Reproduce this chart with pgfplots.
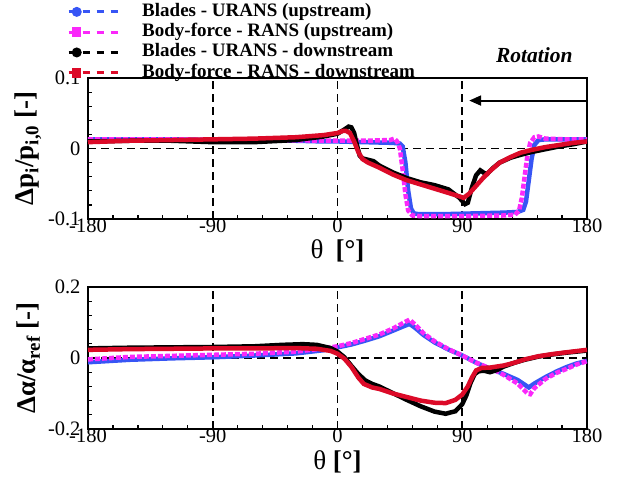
\documentclass[border=0pt]{standalone}
\usepackage{pgfplots}
\pgfplotsset{compat=1.18}
\usepackage{pgfplotstable}
\usepackage{fontspec}
\setmainfont{Liberation Serif}
\usetikzlibrary{arrows.meta}
\definecolor{bluec}{RGB}{55,85,245}
\definecolor{magc}{RGB}{250,40,250}
\definecolor{redc}{RGB}{220,10,40}

\pgfplotstableread{
t v
-180 0.013
-150 0.013
-120 0.013
-90 0.012
-60 0.012
-30 0.011
-10 0.010
0 0.010
20 0.009
40 0.008
45 0.007
47 0.003
49 -0.020
51 -0.060
53 -0.085
55 -0.092
58 -0.093
80 -0.093
100 -0.092
120 -0.091
130 -0.090
134 -0.087
136 -0.075
138 -0.045
140 -0.015
142 0.005
145 0.012
150 0.013
165 0.013
180 0.013
}\tBlue
\pgfplotstableread{
t v
-180 0.013
-120 0.013
-60 0.012
0 0.011
20 0.011
38 0.012
41 0.014
43 0.010
45 0.000
47 -0.030
49 -0.065
51 -0.088
54 -0.095
60 -0.096
90 -0.096
120 -0.095
128 -0.094
131 -0.088
133 -0.070
135 -0.040
137 -0.010
139 0.008
142 0.016
145 0.017
150 0.014
165 0.013
180 0.013
}\tMag
\pgfplotstableread{
t v
-180 0.010
-150 0.011
-120 0.011
-90 0.009
-60 0.009
-30 0.012
-10 0.017
0 0.021
5 0.027
8 0.031
10 0.030
12 0.022
14 0.005
16 -0.010
18 -0.014
22 -0.016
26 -0.018
30 -0.024
40 -0.034
50 -0.042
60 -0.048
70 -0.052
80 -0.058
88 -0.070
92 -0.079
94 -0.077
97 -0.055
100 -0.038
103 -0.031
106 -0.035
108 -0.036
112 -0.028
117 -0.020
125 -0.013
132 -0.009
140 -0.005
150 -0.001
160 0.003
170 0.006
180 0.010
}\tBlack
\pgfplotstableread{
t v
-180 0.009
-150 0.011
-120 0.012
-90 0.013
-60 0.014
-30 0.016
-10 0.019
0 0.022
4 0.025
6 0.025
9 0.022
12 0.010
15 -0.005
18 -0.015
22 -0.020
30 -0.027
40 -0.037
50 -0.045
60 -0.051
70 -0.057
80 -0.063
88 -0.068
91 -0.070
95 -0.064
100 -0.053
105 -0.042
110 -0.032
117 -0.020
125 -0.012
132 -0.006
140 -0.002
150 0.002
160 0.005
170 0.008
180 0.010
}\tRed

\pgfplotstableread{
t v
-180 -0.012
-150 -0.005
-120 -0.001
-90 0.002
-60 0.007
-30 0.013
-10 0.022
0 0.030
10 0.038
20 0.049
30 0.061
40 0.077
48 0.090
52 0.096
56 0.085
62 0.065
70 0.044
80 0.024
90 0.007
100 -0.013
105 -0.022
112 -0.033
120 -0.045
130 -0.062
138 -0.083
142 -0.072
150 -0.054
158 -0.038
165 -0.026
172 -0.016
180 -0.008
}\bBlue
\pgfplotstableread{
t v
-180 -0.004
-150 0.003
-120 0.006
-90 0.009
-60 0.012
-30 0.018
-10 0.027
0 0.033
10 0.042
20 0.054
30 0.066
40 0.083
48 0.100
52 0.108
56 0.094
62 0.070
70 0.047
80 0.025
90 0.007
100 -0.013
108 -0.026
114 -0.035
120 -0.048
130 -0.072
137 -0.100
139 -0.102
142 -0.085
150 -0.059
158 -0.042
165 -0.031
172 -0.019
180 -0.009
}\bMag
\pgfplotstableread{
t v
-180 0.027
-150 0.029
-120 0.030
-90 0.031
-60 0.033
-40 0.037
-25 0.039
-15 0.037
-5 0.028
0 0.018
5 0.002
10 -0.022
15 -0.045
20 -0.063
25 -0.073
30 -0.080
40 -0.099
50 -0.118
60 -0.136
70 -0.151
78 -0.157
85 -0.150
90 -0.130
93 -0.105
96 -0.070
99 -0.045
102 -0.037
106 -0.036
110 -0.040
115 -0.034
120 -0.024
128 -0.013
135 -0.005
145 0.004
155 0.010
165 0.015
180 0.021
}\bBlack
\pgfplotstableread{
t v
-180 0.023
-150 0.025
-120 0.026
-90 0.027
-60 0.027
-30 0.028
-15 0.026
-5 0.020
0 0.012
5 -0.002
10 -0.025
15 -0.055
19 -0.073
25 -0.083
30 -0.087
40 -0.100
50 -0.110
60 -0.120
70 -0.126
78 -0.127
85 -0.118
90 -0.103
94 -0.080
97 -0.055
100 -0.035
104 -0.028
110 -0.027
120 -0.021
128 -0.013
135 -0.004
145 0.005
155 0.011
165 0.016
180 0.023
}\bRed

\pgfplotsset{
  myax/.style={
    scale only axis, width=499pt,
    xmin=-180, xmax=180,
    xtick={-180,-90,0,90,180},
    minor x tick num=4, minor y tick num=4,
    tick align=inside, xtick pos=bottom, ytick pos=left,
    major tick length=7pt, minor tick length=4pt,
    axis line style={line width=2pt},
    every tick/.style={black, line width=1.2pt},
    xmajorgrids, ymajorgrids,
    grid style={black, line width=1.8pt, dash pattern=on 8pt off 5pt},
    major grid style={black, line width=1.8pt, dash pattern=on 8pt off 5pt},
    tick label style={font=\fontsize{20.5}{22}\selectfont},
    /pgf/number format/assume math mode=true,
    xticklabel style={yshift=4pt},
    yticklabel style={xshift=-4pt},
    clip=false,
    label style={font=\fontsize{27}{30}\selectfont},
  },
  pB/.style={bluec, line width=4.5pt},
  pM/.style={magc, line width=4.5pt, dash pattern=on 5pt off 2pt},
  pK/.style={black, line width=4.5pt},
  pR/.style={redc, line width=4.5pt},
  legC/.style={legend image code/.code={%
    \draw[##1, line width=3pt, dash pattern=on 7pt off 7pt, dash phase=-14pt] (0pt,0pt) -- (50pt,0pt);
    \fill[##1, solid] (8pt,0pt) circle (2.6pt);}},
  legS/.style={legend image code/.code={%
    \draw[##1, line width=3pt, dash pattern=on 7pt off 7pt, dash phase=-14pt] (0pt,0pt) -- (50pt,0pt);
    \fill[##1, solid] (5.5pt,-2.5pt) rectangle (10.5pt,2.5pt);}},
}

\begin{document}
\begin{tikzpicture}
\path[use as bounding box] (0,0) rectangle (626pt,480pt);

\begin{axis}[myax,
  at={(88pt,261pt)}, anchor=south west, height=141pt,
  ymin=-0.1, ymax=0.1, ytick={-0.1,0,0.1},
  xlabel={θ\hspace{0.45em}\textbf{[°]}},
  xlabel style={at={(axis description cs:0.5,-0.227)}, anchor=center},
  ylabel={\bfseries Δp\textsubscript{i}/p\textsubscript{i,0} [-]},
  ylabel style={at={(axis description cs:-0.12,0.5)}, anchor=center},
  legend cell align=left,
  legend style={at={(axis description cs:-0.048,1.545)}, anchor=north west,
    draw=none, fill=none, font=\fontsize{19}{20}\bfseries,
    row sep=3.3pt, nodes={inner sep=0pt, text height=13pt, text depth=4pt},
    /tikz/every odd column/.append style={column sep=22pt}},
]
\addplot[pB, legC] table[x=t,y=v] {\tBlue};
\addlegendentry{Blades - URANS (upstream)}
\addplot[pM, legS] table[x=t,y=v] {\tMag};
\addlegendentry{Body-force - RANS (upstream)}
\addplot[pK, legC] table[x=t,y=v] {\tBlack};
\addlegendentry{Blades - URANS - downstream}
\addplot[pR, legS] table[x=t,y=v] {\tRed};
\addlegendentry{Body-force - RANS - downstream}
\draw[line width=2pt, -{Triangle[length=12pt,width=10pt]}] (axis cs:180,0.068) -- (axis cs:95,0.068);
\node[font=\fontsize{21.5}{24}\bfseries\itshape] at (axis cs:142,0.132) {Rotation};
\end{axis}

\begin{axis}[myax,
  at={(88pt,51pt)}, anchor=south west, height=142pt,
  ymin=-0.2, ymax=0.2, ytick={-0.2,0,0.2},
  xlabel={θ \textbf{[°]}},
  xlabel style={at={(axis description cs:0.5,-0.232)}, anchor=center},
  ylabel={\bfseries Δα/α\textsubscript{ref} [-]},
  ylabel style={at={(axis description cs:-0.12,0.5)}, anchor=center},
]
\addplot[pB] table[x=t,y=v] {\bBlue};
\addplot[pM] table[x=t,y=v] {\bMag};
\addplot[pK] table[x=t,y=v] {\bBlack};
\addplot[pR] table[x=t,y=v] {\bRed};
\end{axis}
\end{tikzpicture}
\end{document}
